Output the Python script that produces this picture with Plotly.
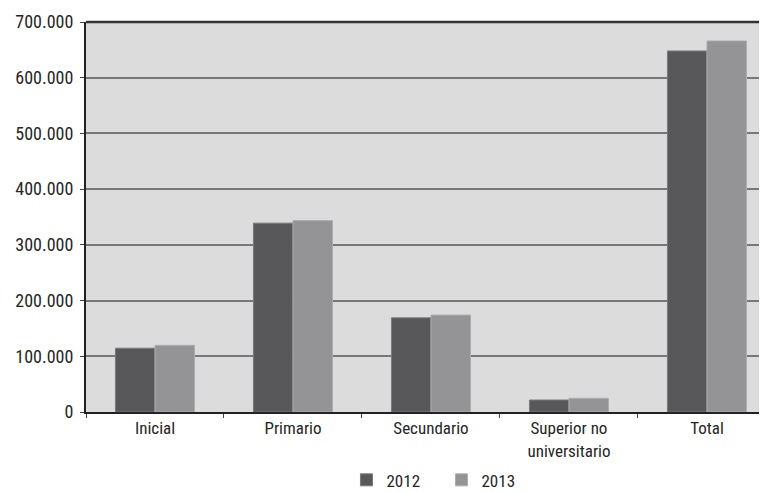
import plotly.graph_objects as go

categories = ["Inicial", "Primario", "Secundario", "Superior no<br>universitario", "Total"]
values_2012 = [114500, 339000, 169000, 21500, 648000]
values_2013 = [119700, 343500, 174000, 24600, 666000]
y_ticks = [0, 100000, 200000, 300000, 400000, 500000, 600000, 700000]

FONT = "Liberation Sans Narrow, Roboto Condensed, Arial Narrow, sans-serif"

fig = go.Figure()
fig.add_trace(go.Bar(name="2012", x=categories, y=values_2012,
                     marker=dict(color="#58585a", line=dict(color="#7a7a7c", width=1))))
fig.add_trace(go.Bar(name="2013", x=categories, y=values_2013,
                     marker=dict(color="#949496", line=dict(color="#adadaf", width=1))))

fig.update_layout(
    width=767, height=492,
    margin=dict(l=78, r=8, t=14, b=88),
    paper_bgcolor="white", plot_bgcolor="#dcdcdd",
    barmode="group", bargap=0.427, bargroupgap=0,
    separators=",.",
    font=dict(family=FONT, size=17, color="#262626"),
    showlegend=True,
    legend=dict(orientation="h", x=0.522, xanchor="center", yref="container", y=0.04,
                yanchor="middle", font=dict(size=17, color="#262626"), itemwidth=30,
                entrywidth=50, entrywidthmode="pixels", traceorder="normal"),
    xaxis=dict(range=[-0.5, 4.435], showgrid=False, showline=True, linecolor="#222222",
               linewidth=2, ticks="outside", tickson="boundaries", ticklen=4,
               tickcolor="#444444", automargin=False,
               tickfont=dict(size=17, color="#262626")),
    yaxis=dict(range=[0, 700000], tickvals=y_ticks, tickformat=",d", showgrid=True,
               gridcolor="#777777", gridwidth=1.5, showline=True, linecolor="#222222",
               linewidth=2, ticks="outside", ticklen=4, tickcolor="#444444",
               zeroline=False, automargin=False, ticklabelstandoff=3,
               tickfont=dict(size=18, color="#262626")),
    shapes=[dict(type="line", xref="paper", yref="paper", x0=0, x1=1, y0=1, y1=1,
                 line=dict(color="#333333", width=2.5))],
)

fig.write_html("out.html")
